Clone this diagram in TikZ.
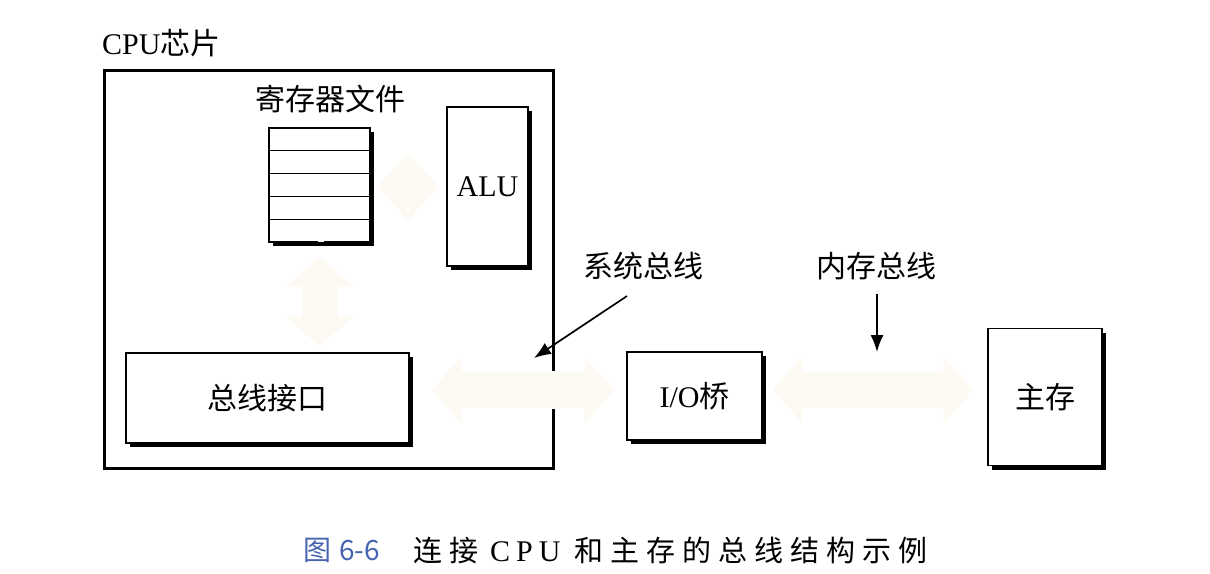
\documentclass[tikz,border=0pt]{standalone}
\usepackage{fontspec}
\newfontfamily\tms{Liberation Serif}
\newfontfamily\cjk{Noto Sans CJK SC}
\newfontfamily\cjkcap{Noto Sans CJK SC}[LetterSpace=24]
\usetikzlibrary{arrows.meta,shadows,calc}
\definecolor{faint}{RGB}{253,250,244}
\definecolor{capblue}{RGB}{70,100,175}
\begin{document}
\begin{tikzpicture}[x=1pt,y=-1pt,
  lbl/.style={inner sep=0pt, font=\fontsize{30}{36}\selectfont},
  box/.style={draw=black, line width=1.3pt, fill=white, inner sep=0pt,
    drop shadow={shadow xshift=4pt, shadow yshift=-4pt, fill=black, opacity=1}},
  busarrow/.style={faint, line width=36pt, {Triangle[length=30pt,width=66pt]}-{Triangle[length=30pt,width=66pt]}},
  ptr/.style={black, line width=1.7pt, -{Latex[length=17pt,width=13pt]}}]
\useasboundingbox (0,0) rectangle (1210,573);
% CPU chip label
\node[lbl, anchor=west] (cpulbl) at (102,43) {{\tms CPU}{\cjk 芯片}};
% CPU chip outline (gap on the right for the bus)
\coordinate (cpunw) at (104,70);
\coordinate (cpuse) at (553,468);
\draw[line width=3pt] (cpuse |- 0,371) -- (cpuse |- cpunw) -- (cpunw) -- (cpunw |- cpuse) -- (cpuse) -- (cpuse |- 0,409);
% register file
\node[lbl] (reglbl) at (330,99) {\cjk 寄存器文件};
\node[box, minimum width=101pt, minimum height=114pt] (reg) at (319.5,185) {};
\foreach \k in {1,2,3,4}
  \draw[line width=1.3pt] ($(reg.north west)!\k/5!(reg.south west)$) -- ($(reg.north east)!\k/5!(reg.south east)$);
\fill[white] ($(reg.south)+(-2,-1)$) rectangle ($(reg.south)+(4,-6)$);
% ALU
\node[box, minimum width=81pt, minimum height=159pt, font=\fontsize{30}{36}\selectfont\tms] (alu) at (487.5,186.5) {ALU};
% bus interface
\node[box, minimum width=283pt, minimum height=90pt, font=\fontsize{30}{36}\selectfont\cjk] (busif) at (267.5,398) {总线接口};
% I/O bridge
\node[box, minimum width=135pt, minimum height=88pt, font=\fontsize{30}{36}\selectfont] (io) at (694.5,396) {{\tms I/O}{\cjk 桥}};
% main memory
\node[box, minimum width=114pt, minimum height=137pt, font=\fontsize{30}{36}\selectfont\cjk] (mem) at (1045,397) {主存};
% faint bus arrows
\draw[busarrow, shorten <=7pt, shorten >=8pt] (reg.east |- alu.west) -- (alu.west);
\draw[busarrow, shorten <=14pt, shorten >=6pt] (reg.south) -- (reg.south |- busif.north);
\draw[busarrow, shorten <=22pt, shorten >=12pt] (busif.east |- 0,390) -- (io.west |- 0,390);
\draw[busarrow, shorten <=10pt, shorten >=14pt] (io.east |- 0,390) -- (mem.west |- 0,390);
% bus labels and pointers
\node[lbl] (sysbus) at (643,266) {\cjk 系统总线};
\node[lbl] (membus) at (876,266) {\cjk 内存总线};
\coordinate (systip) at (534,358);
\coordinate (memtip) at (877,352);
\draw[ptr] ([xshift=-16pt,yshift=-16pt]sysbus.south) -- (systip);
\draw[ptr] ([yshift=-14pt]membus.south -| memtip) -- (memtip);
% caption
\node[anchor=west, inner sep=0pt, font=\fontsize{28}{34}\selectfont\cjk, text=capblue] (fignum) at (303,550) {图\hspace{8pt}6-6};
\node[anchor=west, inner sep=0pt, font=\fontsize{29}{34}\selectfont\cjkcap] (caption) at (413,550) {连接\hspace{12pt}{\tms\fontsize{30}{34}\selectfont C\kern6pt P\kern6pt U}\hspace{14pt}和主存的总线结构示例};
\end{tikzpicture}
\end{document}
